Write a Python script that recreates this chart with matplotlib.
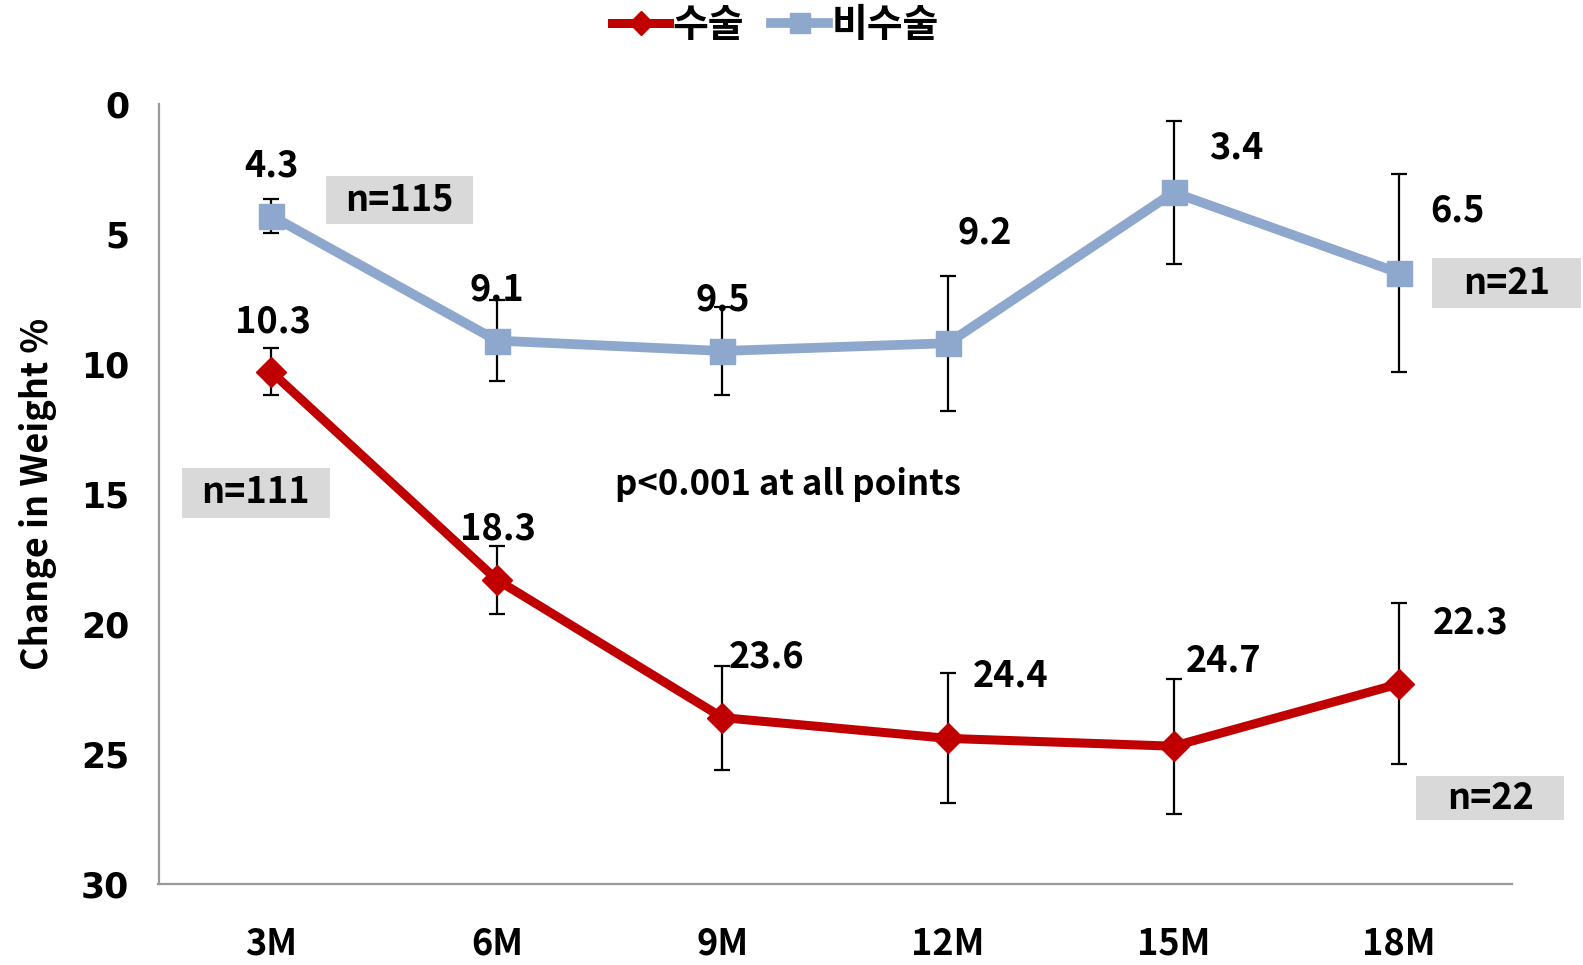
import matplotlib
matplotlib.use("Agg")
import matplotlib.pyplot as plt
from matplotlib.patches import Rectangle
import numpy as np

categories = ["3M", "6M", "9M", "12M", "15M", "18M"]
surg_name = "수술"
nonsurg_name = "비수술"
surg_vals = [10.3, 18.3, 23.6, 24.4, 24.7, 22.3]
surg_err = [0.9, 1.3, 2.0, 2.5, 2.6, 3.1]
nonsurg_vals = [4.3, 9.1, 9.5, 9.2, 3.4, 6.5]
nonsurg_err = [0.65, 1.55, 1.7, 2.6, 2.75, 3.8]
yticks = [0, 5, 10, 15, 20, 25, 30]
ylabel = "Change in Weight %"
ptext = "p<0.001 at all points"
n_labels = ["n=115", "n=111", "n=21", "n=22"]

KR = ["Noto Sans CJK KR", "DejaVu Sans"]
red = "#c00000"
blue = "#8ea7cc"

fig = plt.figure(figsize=(15.83, 9.65), dpi=100)
ax = fig.add_axes([158.5/1583, 1-884/965, (1512-158.5)/1583, (884-104)/965])
x = np.arange(len(categories))

ax.errorbar(x, nonsurg_vals, yerr=nonsurg_err, fmt="none", ecolor="black",
            elinewidth=1.6, capsize=5.5, capthick=1.6, zorder=2)
ax.errorbar(x, surg_vals, yerr=surg_err, fmt="none", ecolor="black",
            elinewidth=1.6, capsize=5.5, capthick=1.6, zorder=2)
ax.plot(x, nonsurg_vals, color=blue, lw=7, marker="s", markersize=18,
        label=nonsurg_name, zorder=3)
ax.plot(x, surg_vals, color=red, lw=6.5, marker="D", markersize=15,
        label=surg_name, zorder=4)

ax.set_xlim(-0.5, 5.5)
ax.set_ylim(30, 0)
ax.set_yticks(yticks)
ax.set_yticklabels([str(t) for t in yticks], fontsize=25, fontweight="bold",
                   family="DejaVu Sans")
ax.set_xticks(x)
ax.set_xticklabels(categories, fontsize=26, fontweight="bold", family=KR)
ax.tick_params(axis="both", length=0)
ax.tick_params(axis="y", pad=21)
ax.tick_params(axis="x", pad=30)
for s in ["top", "right"]:
    ax.spines[s].set_visible(False)
for s in ["left", "bottom"]:
    ax.spines[s].set_color("#999999")
    ax.spines[s].set_linewidth(1.6)

ax.set_ylabel(ylabel, fontsize=26, fontweight="bold", family=KR, labelpad=17)

# data labels (offset in pixels)
blue_off = [(0, 50), (0, 51), (0, 51), (37, 110), (63, 44), (58, 62)]
red_off = [(2, 50), (1, 51), (44, 61), (63, 62), (50, 85), (71, 61)]
for i, v in enumerate(nonsurg_vals):
    ax.annotate(f"{v:.1f}", (x[i], v), xytext=blue_off[i], textcoords="offset pixels",
                ha="center", va="center", fontsize=26, fontweight="bold", family=KR, zorder=5)
for i, v in enumerate(surg_vals):
    ax.annotate(f"{v:.1f}", (x[i], v), xytext=red_off[i], textcoords="offset pixels",
                ha="center", va="center", fontsize=26, fontweight="bold", family=KR, zorder=5)

ax.text(2.29, 14.65, ptext, ha="center", va="center", fontsize=25,
        fontweight="bold", family=KR)

n_boxes = [(0.241, 0.893, 2.755, 4.62), (-0.397, 0.259, 14.01, 15.91),
           (5.147, 5.804, 5.94, 7.84), (5.076, 5.732, 25.84, 27.55)]
for lab, (x0, x1, y0, y1) in zip(n_labels, n_boxes):
    ax.add_patch(Rectangle((x0, y0), x1 - x0, y1 - y0, fc="#d9d9d9", ec="none",
                           clip_on=False, zorder=5))
    ax.text((x0 + x1) / 2, (y0 + y1) / 2, lab, ha="center", va="center",
            fontsize=26, fontweight="bold", family=KR, clip_on=False, zorder=6)

handles, labels = ax.get_legend_handles_labels()
leg = fig.legend(handles[::-1], labels[::-1], loc="upper center",
                 bbox_to_anchor=(0.49, 1.03), ncol=2, frameon=False,
                 prop={"family": KR, "size": 28, "weight": "bold"},
                 handlelength=1.45, handletextpad=0.1, columnspacing=0.7,
                 markerscale=0.8)

fig.savefig("out.png", dpi=100)
